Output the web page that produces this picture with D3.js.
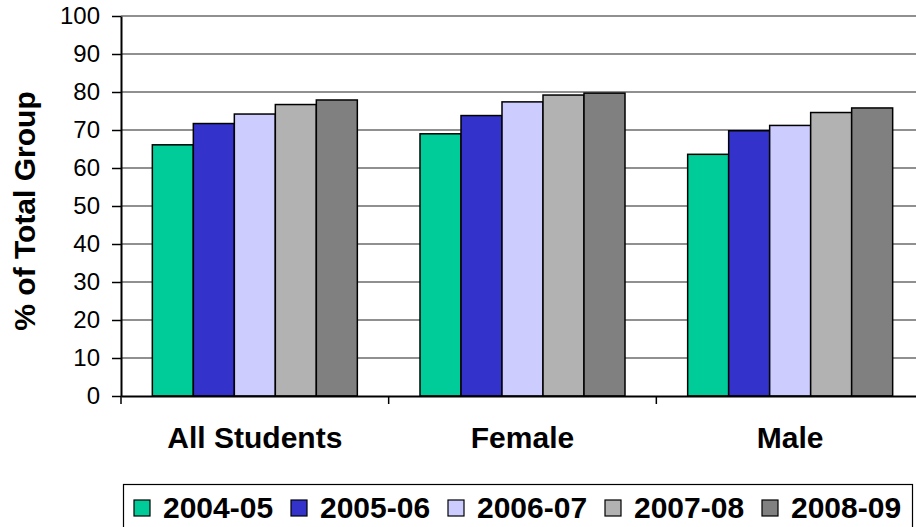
<!DOCTYPE html>
<html>

<head>
    <meta charset="utf-8">
    <title>% of Total Group</title>
    <script src="https://d3js.org/d3.v7.min.js"></script>
    <style>
        body {
            margin: 0;
            background: #fff;
            overflow: hidden;
        }

        svg text {
            font-family: "Liberation Sans", Arial, sans-serif;
        }
    </style>
</head>

<body>
    <div id="chart"></div>

    <script>
        // data
        const groups = ["All Students", "Female", "Male"];
        const years = ["2004-05", "2005-06", "2006-07", "2007-08", "2008-09"];
        const allStudents = [66.1, 71.7, 74.2, 76.7, 77.9];
        const female = [69.0, 73.8, 77.4, 79.2, 79.7];
        const male = [63.6, 69.8, 71.2, 74.6, 75.8];
        const yTicks = [0, 10, 20, 30, 40, 50, 60, 70, 80, 90, 100];
        const colors = ["#00CC99", "#3333CC", "#CCCCFF", "#B2B2B2", "#808080"];

        const seriesByGroup = [allStudents, female, male];

        const W = 916, H = 527;
        const margin = { top: 16, left: 121, bottom: 396 };

        const svg = d3.select("#chart")
            .append("svg")
            .attr("width", W)
            .attr("height", H);

        const x0 = d3.scaleBand()
            .domain(groups)
            .range([margin.left, 924]);

        const barW = 41;
        const x1 = d3.scaleBand()
            .domain(years)
            .range([0, barW * years.length]);

        const y = d3.scaleLinear()
            .domain([0, 100])
            .range([margin.bottom, margin.top]);

        // gridlines
        svg.append("g")
            .selectAll("line")
            .data(yTicks.filter(d => d > 0))
            .join("line")
            .attr("x1", margin.left)
            .attr("x2", 924)
            .attr("y1", d => y(d))
            .attr("y2", d => y(d))
            .attr("stroke", "#222")
            .attr("stroke-width", 1.2);

        // bars
        const offset = (x0.bandwidth() - x1.range()[1]) / 2;
        groups.forEach((g, gi) => {
            svg.append("g")
                .selectAll("rect")
                .data(seriesByGroup[gi])
                .join("rect")
                .attr("x", (d, i) => x0(g) + offset + x1(years[i]))
                .attr("y", d => y(d))
                .attr("width", x1.bandwidth())
                .attr("height", d => y(0) - y(d))
                .attr("fill", (d, i) => colors[i])
                .attr("stroke", "#000")
                .attr("stroke-width", 1.5);
        });

        // y axis
        const yAxis = svg.append("g")
            .attr("transform", `translate(${margin.left},0)`)
            .call(d3.axisLeft(y).tickValues(yTicks).tickSize(9).tickPadding(12).tickSizeOuter(0));
        yAxis.select(".domain").attr("stroke", "#000").attr("stroke-width", 2);
        yAxis.selectAll(".tick line").attr("stroke", "#000").attr("stroke-width", 1.5);
        yAxis.selectAll(".tick text")
            .style("font-family", "'Liberation Sans', Arial, sans-serif")
            .style("font-size", "24px")
            .attr("fill", "#000");

        // x axis
        const xAxis = svg.append("g")
            .attr("transform", `translate(0,${margin.bottom})`)
            .call(d3.axisBottom(x0).tickSize(0).tickPadding(0).tickFormat(""));
        xAxis.select(".domain").attr("stroke", "#000").attr("stroke-width", 2);
        xAxis.selectAll(".tick").remove();

        // category boundary ticks
        svg.append("g")
            .selectAll("line")
            .data(groups)
            .join("line")
            .attr("x1", d => x0(d))
            .attr("x2", d => x0(d))
            .attr("y1", margin.bottom)
            .attr("y2", margin.bottom + 8)
            .attr("stroke", "#000")
            .attr("stroke-width", 1.5);

        // category labels
        svg.append("g")
            .selectAll("text")
            .data(groups)
            .join("text")
            .attr("x", d => x0(d) + x0.bandwidth() / 2)
            .attr("y", 448)
            .attr("text-anchor", "middle")
            .style("font-size", "30px")
            .style("font-weight", "bold")
            .text(d => d);

        // y title
        svg.append("text")
            .attr("transform", "translate(35,211) rotate(-90)")
            .attr("text-anchor", "middle")
            .style("font-size", "30px")
            .style("font-weight", "bold")
            .text("% of Total Group");

        // legend
        const legend = svg.append("g");
        legend.append("rect")
            .attr("x", 123.5)
            .attr("y", 484.5)
            .attr("width", 789)
            .attr("height", 60)
            .attr("fill", "#fff")
            .attr("stroke", "#000")
            .attr("stroke-width", 1.2);

        const item = legend.selectAll("g.item")
            .data(years)
            .join("g")
            .attr("class", "item")
            .attr("transform", (d, i) => `translate(${134 + i * 157},0)`);
        item.append("rect")
            .attr("x", 0)
            .attr("y", 500)
            .attr("width", 16)
            .attr("height", 16)
            .attr("fill", (d, i) => colors[i])
            .attr("stroke", "#000")
            .attr("stroke-width", 1.2);
        item.append("text")
            .attr("x", 29)
            .attr("y", 517.5)
            .style("font-size", "30px")
            .style("font-weight", "bold")
            .text(d => d);
    </script>
</body>

</html>
